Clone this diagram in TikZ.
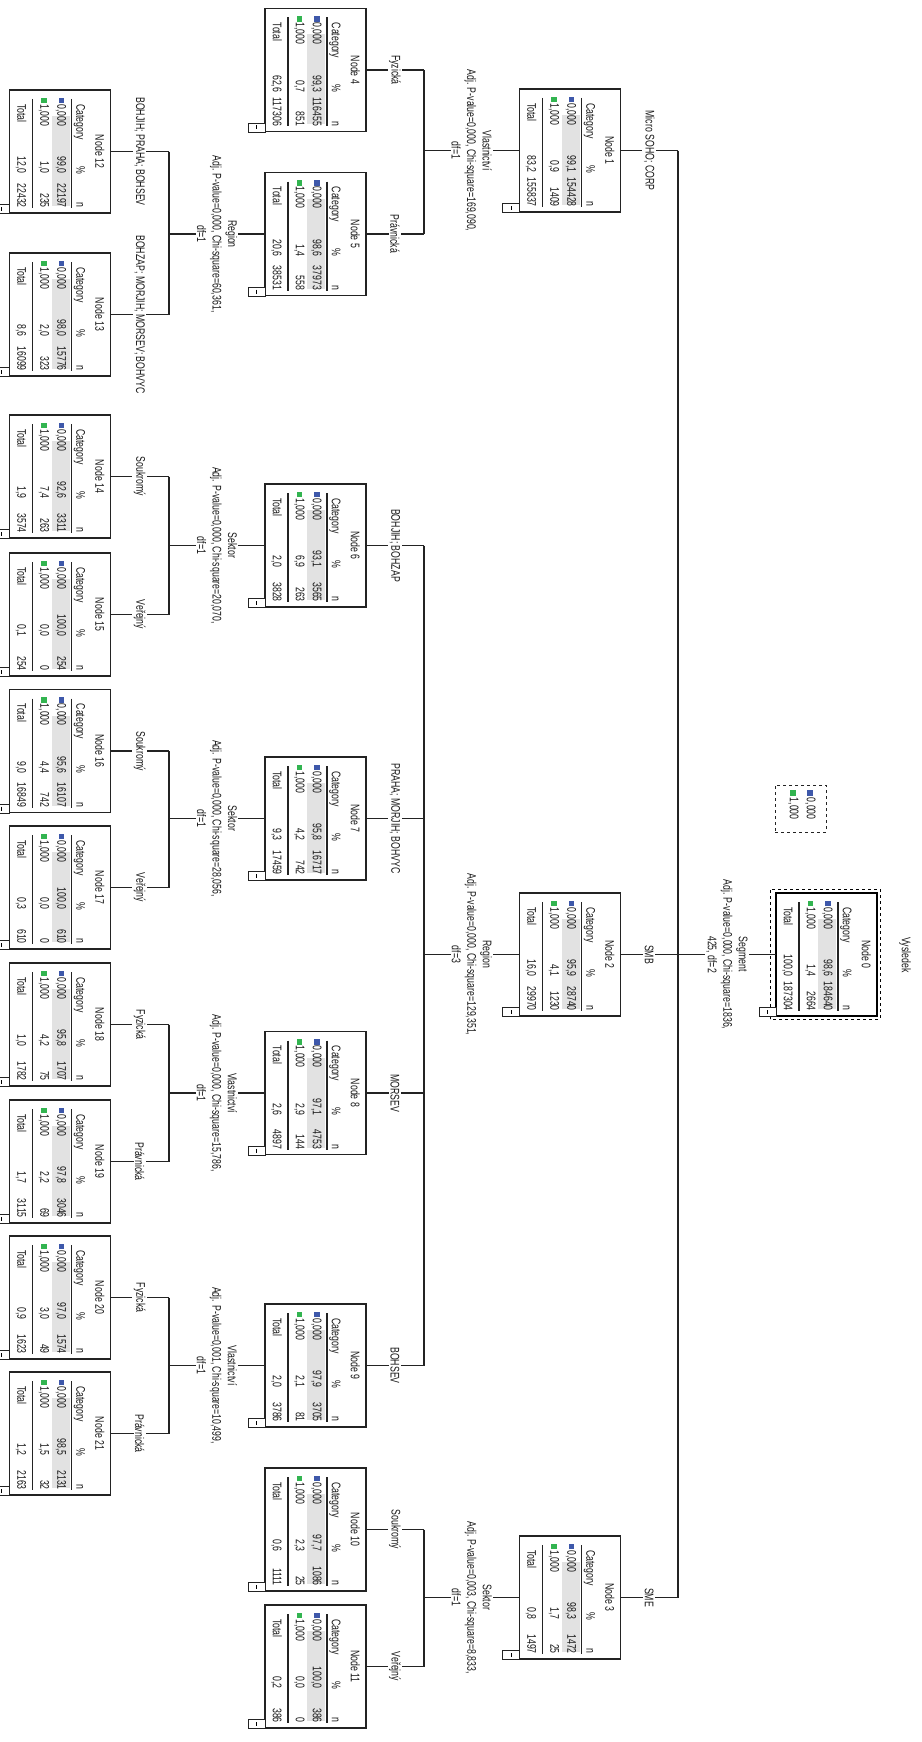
\documentclass[tikz,border=0pt]{standalone}
\usepackage{fontspec}
\setmainfont[FakeStretch=0.7]{Liberation Sans}
\definecolor{catblue}{RGB}{62,88,170}
\definecolor{catgreen}{RGB}{50,180,80}
\definecolor{rowgray}{RGB}{226,226,226}
\definecolor{linegray}{RGB}{35,35,35}
\tikzset{
  treebox/.style={draw=linegray, line width=1.3pt, minimum width=101pt, minimum height=123pt, inner sep=0pt, outer sep=0pt, fill=white},
  tx/.style={font=\fontsize{12.5}{14}\selectfont, inner sep=0pt, text height=9pt, text depth=2.5pt, text=black!90},
  elabel/.style={font=\fontsize{12.5}{14}\selectfont, text=black!90, rotate=-90, fill=white, inner sep=1.5pt},
  slabel/.style={font=\fontsize{12.5}{15.5}\selectfont, text=black!90, rotate=-90, fill=white, align=center, inner sep=1pt},
  rulex/.style={line width=1.2pt, draw=linegray},
  conn/.style={line width=1.1pt, draw=linegray},
}
\newcommand\tcontents[8]{%
\begin{scope}[shift={(#1.center)}, rotate=-90, transform shape]
 \fill[rowgray] (-35.5,-9.5) rectangle (54.5,8.5);
 \node[tx] (#1t) at (0,-38.5) {#2};
 \node[tx,anchor=west] (#1hc) at (-47.5,-19.5) {Category};
 \node[tx,anchor=east] (#1hp) at (22.5,-19.5) {\%};
 \node[tx,anchor=east] (#1hn) at (56.5,-19.5) {n};
 \draw[rulex] (-52.5,-11.5) -- (56.5,-11.5);
 \fill[catblue] (-53.75,-4.25) rectangle (-48.25,1.25);
 \node[tx,anchor=west] (#1ac) at (-47.5,-0.5) {0,000};
 \node[tx,anchor=east] (#1ap) at (22.5,-0.5) {#3};
 \node[tx,anchor=east] (#1an) at (56.5,-0.5) {#4};
 \fill[catgreen] (-53.75,13.25) rectangle (-48.25,18.75);
 \node[tx,anchor=west] (#1bc) at (-47.5,16.5) {1,000};
 \node[tx,anchor=east] (#1bp) at (22.5,16.5) {#5};
 \node[tx,anchor=east] (#1bn) at (56.5,16.5) {#6};
 \draw[rulex] (-52.5,27.5) -- (56.5,27.5);
 \node[tx,anchor=west] (#1tc) at (-47.5,39.5) {Total};
 \node[tx,anchor=east] (#1tp) at (22.5,39.5) {#7};
 \node[tx,anchor=east] (#1tn) at (56.5,39.5) {#8};
 \draw[draw=linegray, line width=0.9pt, fill=white] (53,50.5) rectangle (62,67.5);
 \draw[line width=0.9pt] (55.5,59) -- (59.5,59);
\end{scope}}
\begin{document}
\begin{tikzpicture}[x=1pt,y=-1pt]
\useasboundingbox (0,0) rectangle (921,1742);
\fill[white] (0,0) rectangle (921,1742);

% bar coordinates
\coordinate (b0) at (678,0);
\coordinate (b1) at (424,0);
\coordinate (b2) at (169,0);

% title and legend
\node[elabel] (title) at (905,955) {Vysledek};
\node[draw=linegray, dashed, line width=0.9pt, minimum width=51pt, minimum height=47pt, inner sep=0pt] (legend) at (800.5,808.5) {};
\begin{scope}[shift={(legend.center)}, rotate=-90, transform shape]
 \fill[catblue] (-18.25,-12.25) rectangle (-12.75,-6.75);
 \node[tx,anchor=west] (lega) at (-11,-9.5) {0,000};
 \fill[catgreen] (-18.25,4.75) rectangle (-12.75,10.25);
 \node[tx,anchor=west] (legb) at (-11,7.5) {1,000};
\end{scope}

% boxes
\node[treebox, draw=black, line width=2.6pt] (n0) at (826.5,954.5) {};
\draw[dashed, line width=1pt] ([shift={(-6,3)}]n0.south west) rectangle ([shift={(3,-4)}]n0.north east);
\node[treebox] (n1) at (570,150.5) {};
\node[treebox] (n2) at (570,954.5) {};
\node[treebox] (n3) at (570,1597.5) {};
\node[treebox] (n4) at (315.5,70) {};
\node[treebox] (n5) at (315.5,234) {};
\node[treebox] (n6) at (315.5,545.5) {};
\node[treebox] (n7) at (315.5,818.5) {};
\node[treebox] (n8) at (315.5,1093) {};
\node[treebox] (n9) at (315.5,1365.5) {};
\node[treebox] (n10) at (315.5,1529.5) {};
\node[treebox] (n11) at (315.5,1666.5) {};
\node[treebox] (n12) at (60,151.5) {};
\node[treebox] (n13) at (60,314.5) {};
\node[treebox] (n14) at (60,476.5) {};
\node[treebox] (n15) at (60,614.5) {};
\node[treebox] (n16) at (60,751) {};
\node[treebox] (n17) at (60,887.5) {};
\node[treebox] (n18) at (60,1024.5) {};
\node[treebox] (n19) at (60,1161.5) {};
\node[treebox] (n20) at (60,1297.5) {};
\node[treebox] (n21) at (60,1433.5) {};

% contents
\tcontents{n0}{Node 0}{98,6}{184640}{1,4}{2664}{100,0}{187304}
\tcontents{n1}{Node 1}{99,1}{154428}{0,9}{1409}{83,2}{155837}
\tcontents{n2}{Node 2}{95,9}{28740}{4,1}{1230}{16,0}{29970}
\tcontents{n3}{Node 3}{98,3}{1472}{1,7}{25}{0,8}{1497}
\tcontents{n4}{Node 4}{99,3}{116455}{0,7}{851}{62,6}{117306}
\tcontents{n5}{Node 5}{98,6}{37973}{1,4}{558}{20,6}{38531}
\tcontents{n6}{Node 6}{93,1}{3565}{6,9}{263}{2,0}{3828}
\tcontents{n7}{Node 7}{95,8}{16717}{4,2}{742}{9,3}{17459}
\tcontents{n8}{Node 8}{97,1}{4753}{2,9}{144}{2,6}{4897}
\tcontents{n9}{Node 9}{97,9}{3705}{2,1}{81}{2,0}{3786}
\tcontents{n10}{Node 10}{97,7}{1086}{2,3}{25}{0,6}{1111}
\tcontents{n11}{Node 11}{100,0}{386}{0,0}{0}{0,2}{386}
\tcontents{n12}{Node 12}{99,0}{22197}{1,0}{235}{12,0}{22432}
\tcontents{n13}{Node 13}{98,0}{15776}{2,0}{323}{8,6}{16099}
\tcontents{n14}{Node 14}{92,6}{3311}{7,4}{263}{1,9}{3574}
\tcontents{n15}{Node 15}{100,0}{254}{0,0}{0}{0,1}{254}
\tcontents{n16}{Node 16}{95,6}{16107}{4,4}{742}{9,0}{16849}
\tcontents{n17}{Node 17}{100,0}{610}{0,0}{0}{0,3}{610}
\tcontents{n18}{Node 18}{95,8}{1707}{4,2}{75}{1,0}{1782}
\tcontents{n19}{Node 19}{97,8}{3046}{2,2}{69}{1,7}{3115}
\tcontents{n20}{Node 20}{97,0}{1574}{3,0}{49}{0,9}{1623}
\tcontents{n21}{Node 21}{98,5}{2131}{1,5}{32}{1,2}{2163}

% root split
\draw[conn] (n0.west) -- node[slabel] (s0) {Segment\\Adj. P-value=0,000, Chi-square=1836,\\425, df=2} (n0.west -| b0);
\draw[conn] (b0 |- n1.east) -- (b0 |- n3.east);
\draw[conn] (b0 |- n1.east) -- node[elabel] (e1) {Micro SOHO; CORP} (n1.east);
\draw[conn] (b0 |- n2.east) -- node[elabel] (e2) {SMB} (n2.east);
\draw[conn] (b0 |- n3.east) -- node[elabel] (e3) {SME} (n3.east);

% node 1 split
\draw[conn] (n1.west) -- node[slabel] (s1) {Vlastnictví\\Adj. P-value=0,000, Chi-square=169,090,\\df=1} (n1.west -| b1);
\draw[conn] (b1 |- n4.east) -- (b1 |- n5.east);
\draw[conn] (b1 |- n4.east) -- node[elabel] (e4) {Fyzická} (n4.east);
\draw[conn] (b1 |- n5.east) -- node[elabel] (e5) {Právnická} (n5.east);

% node 2 split
\draw[conn] (n2.west) -- node[slabel] (s2) {Region\\Adj. P-value=0,000, Chi-square=129,351,\\df=3} (n2.west -| b1);
\draw[conn] (b1 |- n6.east) -- (b1 |- n9.east);
\draw[conn] (b1 |- n6.east) -- node[elabel] (e6) {BOHJIH; BOHZAP} (n6.east);
\draw[conn] (b1 |- n7.east) -- node[elabel] (e7) {PRAHA; MORJIH; BOHVYC} (n7.east);
\draw[conn] (b1 |- n8.east) -- node[elabel] (e8) {MORSEV} (n8.east);
\draw[conn] (b1 |- n9.east) -- node[elabel] (e9) {BOHSEV} (n9.east);

% node 3 split
\draw[conn] (n3.west) -- node[slabel] (s3) {Sektor\\Adj. P-value=0,003, Chi-square=8,833,\\df=1} (n3.west -| b1);
\draw[conn] (b1 |- n10.east) -- (b1 |- n11.east);
\draw[conn] (b1 |- n10.east) -- node[elabel] (e10) {Soukromý} (n10.east);
\draw[conn] (b1 |- n11.east) -- node[elabel] (e11) {Veřejný} (n11.east);

% node 5 split
\draw[conn] (n5.west) -- node[slabel] (s5) {Region\\Adj. P-value=0,000, Chi-square=60,361,\\df=1} (n5.west -| b2);
\draw[conn] (b2 |- n12.east) -- (b2 |- n13.east);
\draw[conn] (b2 |- n12.east) -- node[elabel] (e12) {BOHJIH; PRAHA; BOHSEV} (n12.east);
\draw[conn] (b2 |- n13.east) -- node[elabel] (e13) {BOHZAP; MORJIH; MORSEV; BOHVYC} (n13.east);

% node 6 split
\draw[conn] (n6.west) -- node[slabel] (s6) {Sektor\\Adj. P-value=0,000, Chi-square=20,070,\\df=1} (n6.west -| b2);
\draw[conn] (b2 |- n14.east) -- (b2 |- n15.east);
\draw[conn] (b2 |- n14.east) -- node[elabel] (e14) {Soukromý} (n14.east);
\draw[conn] (b2 |- n15.east) -- node[elabel] (e15) {Veřejný} (n15.east);

% node 7 split
\draw[conn] (n7.west) -- node[slabel] (s7) {Sektor\\Adj. P-value=0,000, Chi-square=28,056,\\df=1} (n7.west -| b2);
\draw[conn] (b2 |- n16.east) -- (b2 |- n17.east);
\draw[conn] (b2 |- n16.east) -- node[elabel] (e16) {Soukromý} (n16.east);
\draw[conn] (b2 |- n17.east) -- node[elabel] (e17) {Veřejný} (n17.east);

% node 8 split
\draw[conn] (n8.west) -- node[slabel] (s8) {Vlastnictví\\Adj. P-value=0,000, Chi-square=15,786,\\df=1} (n8.west -| b2);
\draw[conn] (b2 |- n18.east) -- (b2 |- n19.east);
\draw[conn] (b2 |- n18.east) -- node[elabel] (e18) {Fyzická} (n18.east);
\draw[conn] (b2 |- n19.east) -- node[elabel] (e19) {Právnická} (n19.east);

% node 9 split
\draw[conn] (n9.west) -- node[slabel] (s9) {Vlastnictví\\Adj. P-value=0,001, Chi-square=10,499,\\df=1} (n9.west -| b2);
\draw[conn] (b2 |- n20.east) -- (b2 |- n21.east);
\draw[conn] (b2 |- n20.east) -- node[elabel] (e20) {Fyzická} (n20.east);
\draw[conn] (b2 |- n21.east) -- node[elabel] (e21) {Právnická} (n21.east);
\end{tikzpicture}
\end{document}
